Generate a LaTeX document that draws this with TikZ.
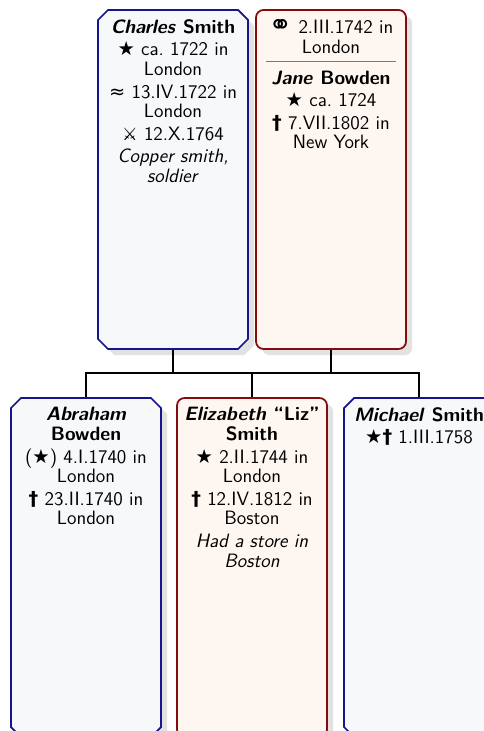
\documentclass[tikz,border=0pt]{standalone}
\usepackage{fontspec}
\usepackage{xcolor}
\usepackage{tikz}
\usetikzlibrary{shapes.misc, shadows, positioning, calc}
\newfontfamily\symfont{DejaVu Sans}
\definecolor{malefr}{RGB}{22,22,140}
\definecolor{femalefr}{RGB}{132,12,12}
\definecolor{malebg}{RGB}{247,248,250}
\definecolor{femalebg}{RGB}{254,246,241}
\definecolor{sepred}{RGB}{205,85,85}
\newcommand{\symborn}{{\symfont ★}}
\newcommand{\symdied}{{\symfont\bfseries †}}
\newcommand{\symbapt}{{\symfont ≈}}
\newcommand{\symfall}{{\symfont\scalebox{0.9}{⚔}}}
\newcommand{\symmarr}{{\symfont\raisebox{-0.1ex}{\scalebox{1.45}{⚭}}}}
\newcommand{\boxtext}[1]{\parbox[t][6.4cm][t]{2.76cm}{\centering
  \fontsize{11}{11.2}\selectfont\setlength{\parskip}{1.6pt}#1}}
\tikzset{
  person/.style={minimum width=3cm, minimum height=6.78cm, inner sep=0pt,
    line width=1pt, font=\sffamily,
    drop shadow={shadow xshift=3.5pt, shadow yshift=-3.5pt, opacity=0.16, fill=black!70}},
  malebox/.style={person, chamfered rectangle, chamfered rectangle xsep=0.12cm,
    chamfered rectangle ysep=0.08cm, draw=malefr, fill=malebg},
  femalebox/.style={person, rectangle, rounded corners=0.15cm,
    draw=femalefr, fill=femalebg},
  conn/.style={line width=1pt, color=black}
}
\begin{document}
\begin{tikzpicture}
  \clip (0,0) rectangle (9.68,-14.62);

  % Parents
  \node[malebox] (charles) at (3.46,-3.59) {\boxtext{%
    \textbf{\textit{Charles} Smith}\par
    \symborn\ ca.\ 1722 in London\par
    \symbapt\ 13.IV.1722 in London\par
    \symfall\ 12.X.1764\par
    \textit{Copper smith, soldier}}};
  \node[femalebox] (jane) at (6.62,-3.59) {\boxtext{%
    \symmarr\ 2.III.1742 in London\par
    \nointerlineskip\vspace{2.5pt}{\color{sepred}\rule{2.6cm}{0.7pt}\par}
    \textbf{\textit{Jane} Bowden}\par
    \symborn\ ca.\ 1724\par
    \symdied\ 7.VII.1802 in New York}};

  % Children
  \node[malebox] (abraham) at (1.72,-11.35) {\boxtext{%
    \textbf{\textit{Abraham} Bowden}\par
    (\symborn) 4.I.1740 in London\par
    \symdied\ 23.II.1740 in London}};
  \node[femalebox] (elizabeth) at (5.04,-11.35) {\boxtext{%
    \textbf{\textit{Elizabeth} “Liz” Smith}\par
    \symborn\ 2.II.1744 in London\par
    \symdied\ 12.IV.1812 in Boston\par
    \textit{Had a store in Boston}}};
  \node[malebox] (michael) at (8.38,-11.35) {\boxtext{%
    \textbf{\textit{Michael} Smith}\par
    \symborn\symdied\ 1.III.1758}};

  % Family links
  \coordinate (bar) at (0,-7.46);
  \draw[conn] (charles.south) -- (charles.south |- bar);
  \draw[conn] (jane.south) -- (jane.south |- bar);
  \draw[conn] (abraham.north) |- (michael.north |- bar) -- (michael.north);
  \draw[conn] (elizabeth.north) -- (elizabeth.north |- bar);
\end{tikzpicture}
\end{document}
